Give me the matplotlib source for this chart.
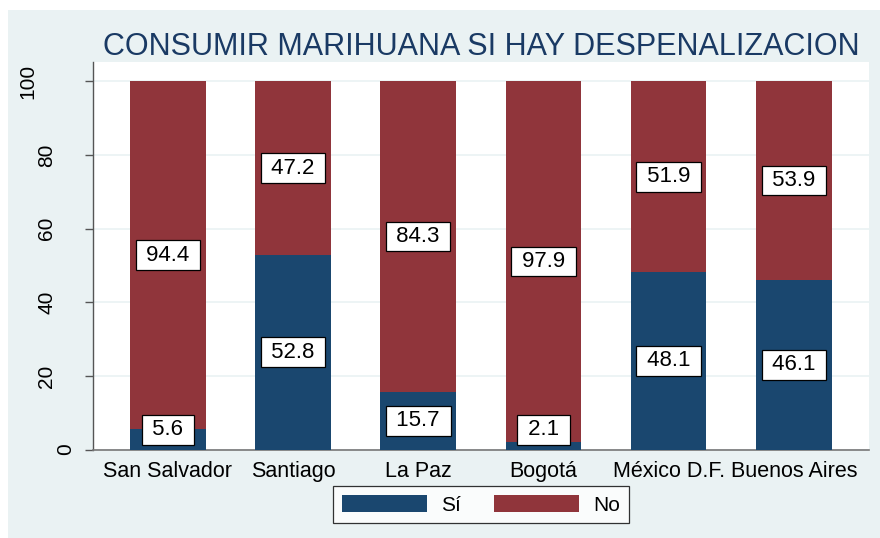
import matplotlib
matplotlib.use("Agg")
import matplotlib.pyplot as plt
from matplotlib.patches import Rectangle
from matplotlib.transforms import blended_transform_factory, ScaledTranslation
import numpy as np

plt.rcParams['font.family'] = ['Liberation Sans', 'DejaVu Sans']

title = "CONSUMIR MARIHUANA SI HAY DESPENALIZACION"
cities = ["San Salvador", "Santiago", "La Paz", "Bogotá", "México D.F.", "Buenos Aires"]
si = [5.6, 52.8, 15.7, 2.1, 48.1, 46.1]
no = [94.4, 47.2, 84.3, 97.9, 51.9, 53.9]
series_names = ["Sí", "No"]
yticks = [0, 20, 40, 60, 80, 100]

navy = "#1A476F"
maroon = "#90353B"
bg = "#EAF2F3"
title_color = "#1A3A64"

W, H = 880, 538
fig = plt.figure(figsize=(W / 100, H / 100), dpi=100)
fig.patch.set_facecolor("white")
fig.patches.append(Rectangle((8 / W, 0), 1 - 8 / W, 1 - 10 / H, transform=fig.transFigure,
                             facecolor=bg, edgecolor="none", zorder=-10))

ax_h = 449.6 - 62
ax = fig.add_axes([92.7 / W, 1 - 449.6 / H, (869 - 92.7) / W, ax_h / H])
ax.set_facecolor("white")

x = np.arange(len(cities))
width = 0.603
b1 = ax.bar(x, si, width, color=navy, zorder=3, label=series_names[0])
b2 = ax.bar(x, no, width, bottom=si, color=maroon, zorder=3, label=series_names[1])

ax.set_xlim(-0.6, len(cities) - 1 + 0.6)
ax.set_ylim(0, 105.2)
ax.set_yticks(yticks)
ax.grid(axis="y", color=bg, linewidth=1.2, zorder=0)
ax.set_axisbelow(True)

for s in ["top", "right"]:
    ax.spines[s].set_visible(False)
ax.spines["left"].set_color("#555555")
ax.spines["bottom"].set_color("#777777")
ax.spines["left"].set_linewidth(1.0)
ax.spines["bottom"].set_linewidth(1.2)

ax.tick_params(axis="y", length=6, width=1.0, color="#555555", labelleft=False)
ax.tick_params(axis="x", length=0, pad=8, labelsize=15.5)
ax.set_xticks(x)
ax.set_xticklabels(cities)

# y tick labels (rotated, Stata-like placement)
trans = blended_transform_factory(ax.transAxes, ax.transData)
for t in yticks:
    lab = f"{t}"
    off = (-8 - 19 * len(lab)) / 100
    ax.text(0, t, lab, rotation=90, ha="center", va="center", fontsize=15,
            transform=trans + ScaledTranslation(off, 0, fig.dpi_scale_trans), clip_on=False)

# value labels
box = dict(boxstyle="square,pad=0.2", facecolor="white", edgecolor="black", linewidth=0.9)
for i in range(len(cities)):
    y1 = max(si[i] / 2, 5.4)
    ax.text(x[i], y1, f" {si[i]:.1f} ", ha="center", va="center", fontsize=16, bbox=box, zorder=5)
    y2 = si[i] + no[i] / 2
    ax.text(x[i], y2, f" {no[i]:.1f} ", ha="center", va="center", fontsize=16, bbox=box, zorder=5)

ax.set_title(title, fontsize=22, color=title_color, pad=5)

leg = ax.legend(handles=[b1, b2], loc="upper center", bbox_to_anchor=(0.5, -36.4 / ax_h), ncol=2,
                frameon=True, fancybox=False, edgecolor="black", fontsize=15,
                handlelength=4.1, handleheight=0.9, columnspacing=1.6, handletextpad=0.65,
                borderpad=0.42, borderaxespad=0)
leg.get_frame().set_linewidth(0.9)

fig.savefig("out.png", dpi=100, facecolor=fig.get_facecolor())
